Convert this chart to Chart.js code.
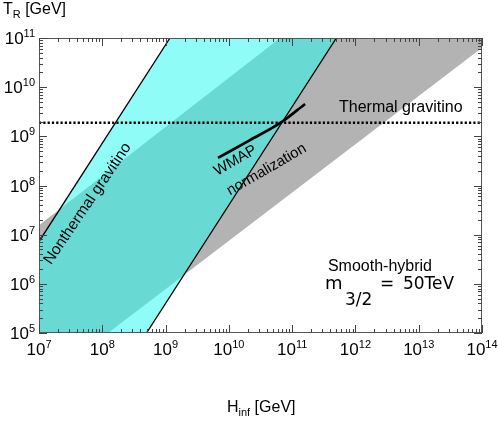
<!DOCTYPE html>
<html><head><meta charset="utf-8">
<script src="https://cdn.jsdelivr.net/npm/chart.js@4"></script>
<style>html,body{margin:0;padding:0;background:#fff}canvas{display:block}</style>
</head><body>
<canvas id="c" width="499" height="422"></canvas>
<script>
// ---------- data (H_inf [GeV], T_R [GeV]) ----------
const xTickExponents = [7, 8, 9, 10, 11, 12, 13, 14];
const yTickExponents = [5, 6, 7, 8, 9, 10, 11];

// thermal gravitino constraint band (grey)
const thermalH = [1e7, 1e7, 6.46e10, 1e14, 1e14, 1.23e8];
const thermalT = [1e5, 1.55e7, 1e11, 1e11, 6.3e10, 1e5];
// nonthermal gravitino band (cyan)
const nonthermalH = [1e7, 1e7, 1.175e9, 5.0e11, 5.0e8];
const nonthermalT = [1e5, 7.24e6, 1e11, 1e11, 1e5];
// overlap of both (teal)
const overlapH = [1e7, 1e7, 2.14e7, 6.46e10, 5.0e11, 1.94e9, 1.23e8];
const overlapT = [1e5, 7.24e6, 3.31e7, 1e11, 1e11, 1.49e6, 1e5];
// band edges
const edgeLeftH = [1e7, 1.175e9];
const edgeLeftT = [7.24e6, 1e11];
const edgeRightH = [5.0e8, 5.0e11];
const edgeRightT = [1e5, 1e11];
// thermal gravitino bound
const thermalBoundH = [1e7, 1e14];
const thermalBoundT = [1.9e9, 1.9e9];
// WMAP normalization
const wmapH = [6.73e9, 2.16e10, 6.6e10, 1.6e11];
const wmapT = [3.63e8, 8.4e8, 1.9e9, 4.55e9];

// text annotations anchored in data coordinates
const annotations = [
  {text: 'Thermal gravitino', H: 5.5e11, T: 3.13e9, size: 16, align: 'left', angle: 0},
  {text: 'Smooth-hybrid', H: 3.68e11, T: 1.82e6, size: 16, align: 'left', angle: 0},
  {text: 'WMAP', H: 1.27e10, T: 3.2e8, size: 15, align: 'center', angle: -30},
  {text: 'normalization', H: 3.95e10, T: 2.1e8, size: 15, align: 'center', angle: -30},
  {text: 'Nonthermal gravitino', H: 5.88e7, T: 4.27e7, size: 15.5, align: 'center', angle: 'edge'}
];
const massLabel = {H: 3.3e11, T: 7.85e5, main: 'm', sub: '3/2', eq: '=', rest: '50TeV'};

function pts(hs, ts) { return hs.map((h, i) => ({x: h, y: ts[i]})); }
const FONT = '"Liberation Sans", Arial, Helvetica, sans-serif';
const FONT2 = '"DejaVu Sans", sans-serif';

const decor = {
  id: 'decor',
  afterDatasetsDraw(chart) {
    const ctx = chart.ctx, xs = chart.scales.x, ys = chart.scales.y, a = chart.chartArea;
    ctx.save();
    ctx.fillStyle = '#000';
    // ---- annotations ----
    for (const an of annotations) {
      const px = xs.getPixelForValue(an.H), py = ys.getPixelForValue(an.T);
      let ang = 0;
      if (an.angle === 'edge') {
        const dx = xs.getPixelForValue(edgeLeftH[1]) - xs.getPixelForValue(edgeLeftH[0]);
        const dy = ys.getPixelForValue(edgeLeftT[1]) - ys.getPixelForValue(edgeLeftT[0]);
        ang = Math.atan2(dy, dx) + 0.025;
      } else ang = an.angle * Math.PI / 180;
      ctx.save();
      ctx.translate(px, py);
      ctx.rotate(ang);
      ctx.font = an.size + 'px ' + FONT;
      ctx.textAlign = an.align;
      ctx.textBaseline = an.align === 'center' ? 'middle' : 'alphabetic';
      ctx.fillText(an.text, 0, 0);
      ctx.restore();
    }
    // mass label
    {
      const px = xs.getPixelForValue(massLabel.H), py = ys.getPixelForValue(massLabel.T);
      ctx.textAlign = 'left'; ctx.textBaseline = 'alphabetic';
      ctx.font = '18px ' + FONT2;
      ctx.fillText(massLabel.main, px, py);
      ctx.font = '17px ' + FONT2;
      ctx.fillText(massLabel.sub, px + 20, py + 16);
      ctx.fillText(massLabel.eq, px + 55, py);
      ctx.fillText(massLabel.rest, px + 78, py);
    }
    // ---- frame ----
    ctx.strokeStyle = '#555';
    ctx.lineWidth = 1;
    ctx.strokeRect(Math.round(a.left) + 0.5, Math.round(a.top) + 0.5,
                   Math.round(a.right - a.left) - 1, Math.round(a.bottom - a.top) - 1);
    // ---- ticks ----
    ctx.strokeStyle = '#444';
    ctx.beginPath();
    const xe0 = xTickExponents[0], xe1 = xTickExponents[xTickExponents.length - 1];
    for (let e = xe0; e <= xe1; e++) {
      for (let m = 1; m <= 9; m++) {
        if (e === xe1 && m > 1) break;
        const v = m * Math.pow(10, e);
        const px = Math.round(xs.getPixelForValue(v)) + 0.5;
        const len = m === 1 ? 8 : 4;
        ctx.moveTo(px, a.bottom); ctx.lineTo(px, a.bottom - len);
        ctx.moveTo(px, a.top); ctx.lineTo(px, a.top + len);
      }
    }
    const ye0 = yTickExponents[0], ye1 = yTickExponents[yTickExponents.length - 1];
    for (let e = ye0; e <= ye1; e++) {
      for (let m = 1; m <= 9; m++) {
        if (e === ye1 && m > 1) break;
        const v = m * Math.pow(10, e);
        const py = Math.round(ys.getPixelForValue(v)) + 0.5;
        const len = m === 1 ? 8 : 4;
        ctx.moveTo(a.left, py); ctx.lineTo(a.left + len, py);
        ctx.moveTo(a.right, py); ctx.lineTo(a.right - len, py);
      }
    }
    ctx.stroke();
    // ---- tick labels ----
    ctx.fillStyle = '#000';
    ctx.textBaseline = 'alphabetic';
    ctx.textAlign = 'left';
    for (const e of xTickExponents) {
      const px = xs.getPixelForValue(Math.pow(10, e));
      ctx.font = '17px ' + FONT; const w1 = ctx.measureText('10').width;
      ctx.font = '11px ' + FONT; const w2 = ctx.measureText(String(e)).width;
      const x0 = px - (w1 + w2) / 2;
      const base = a.bottom + 22;
      ctx.font = '17px ' + FONT; ctx.fillText('10', x0, base);
      ctx.font = '11px ' + FONT; ctx.fillText(String(e), x0 + w1, base - 7);
    }
    for (const e of yTickExponents) {
      const py = ys.getPixelForValue(Math.pow(10, e));
      ctx.font = '17px ' + FONT; const w1 = ctx.measureText('10').width;
      ctx.font = '11px ' + FONT; const w2 = ctx.measureText(String(e)).width;
      const x0 = a.left - 4 - (w1 + w2);
      ctx.font = '17px ' + FONT; ctx.fillText('10', x0, py + 6);
      ctx.font = '11px ' + FONT; ctx.fillText(String(e), x0 + w1, py - 1);
    }
    // ---- axis titles ----
    let x = 3;
    ctx.font = '16px ' + FONT; ctx.fillText('T', x, 14); x += ctx.measureText('T').width;
    ctx.font = '11px ' + FONT; ctx.fillText('R', x, 18); x += ctx.measureText('R').width;
    ctx.font = '16px ' + FONT; ctx.fillText(' [GeV]', x, 14);
    x = 227;
    ctx.font = '16px ' + FONT; ctx.fillText('H', x, 412); x += ctx.measureText('H').width;
    ctx.font = '11px ' + FONT; ctx.fillText('inf', x, 416); x += ctx.measureText('inf').width;
    ctx.font = '16px ' + FONT; ctx.fillText(' [GeV]', x, 412);
    ctx.restore();
  }
};

const poly = (hs, ts, color, order) => ({
  data: pts(hs.concat([hs[0]]), ts.concat([ts[0]])), showLine: true, fill: 'shape',
  backgroundColor: color, borderWidth: 0, borderColor: 'rgba(0,0,0,0)', pointRadius: 0, order
});
const line = (hs, ts, width, dash, order) => ({
  data: pts(hs, ts), showLine: true, fill: false, borderColor: '#000', borderWidth: width,
  borderDash: dash, pointRadius: 0, tension: 0, order, borderCapStyle: 'butt'
});

new Chart(document.getElementById('c'), {
  type: 'scatter',
  data: {
    datasets: [
      poly(thermalH, thermalT, '#b3b3b3', 10),
      poly(nonthermalH, nonthermalT, '#8ffcf8', 9),
      poly(overlapH, overlapT, '#69dad3', 8),
      line(edgeLeftH, edgeLeftT, 1.3, [], 4),
      line(edgeRightH, edgeRightT, 1.3, [], 3),
      line(thermalBoundH, thermalBoundT, 2.5, [2.2, 2.1], 2),
      Object.assign(line(wmapH, wmapT, 2.6, [], 1), {tension: 0.3, cubicInterpolationMode: 'monotone'})
    ]
  },
  options: {
    responsive: false, animation: false, devicePixelRatio: 1,
    layout: {padding: {left: 39, top: 38, right: 17, bottom: 89}},
    plugins: {legend: {display: false}, tooltip: {enabled: false}},
    scales: {
      x: {type: 'logarithmic', min: 1e7, max: 1e14, display: false},
      y: {type: 'logarithmic', min: 1e5, max: 1e11, display: false}
    }
  },
  plugins: [decor]
});
</script>
</body></html>
